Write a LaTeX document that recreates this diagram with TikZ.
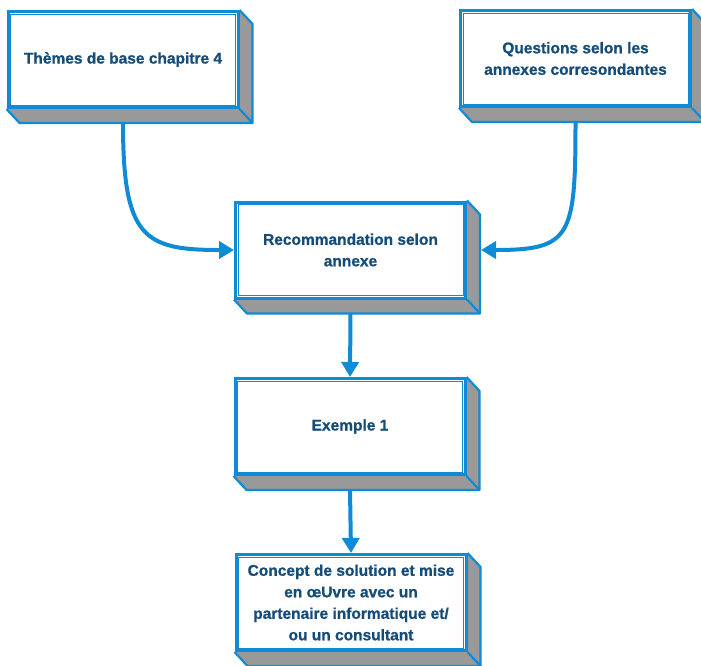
\documentclass[tikz,border=0pt]{standalone}
\usepackage{fontspec}
\setmainfont{Liberation Sans}[BoldFeatures={FakeBold=0.9}]
\usetikzlibrary{arrows.meta,backgrounds,calc}
\definecolor{lineblue}{RGB}{14,138,214}
\definecolor{textblue}{RGB}{22,76,120}
\definecolor{sidegray}{RGB}{153,153,153}
\tikzset{
  box/.style={rectangle, draw=lineblue, line width=3pt, fill=white,
    minimum width=230pt, minimum height=96pt, inner sep=0pt, align=center,
    text=textblue, font=\bfseries\fontsize{15.5}{21.5}\selectfont},
  innerline/.style={draw=lineblue, line width=1pt},
  sideline/.style={draw=lineblue, line width=2.2pt, line join=round},
  conn/.style={draw=lineblue, line width=4pt, -{Triangle[length=15pt,width=17pt]}},
}
\newcommand\cubenode[3]{%
  \node[box] (#1) at (#2) {#3};
  \draw[innerline] ($(#1.north west)+(4pt,-4pt)$) rectangle ($(#1.south east)+(-4pt,4pt)$);
  \begin{scope}[on background layer]
    \fill[sidegray] (#1.south west) -- ($(#1.south west)+(13pt,-14pt)$)
      -- ($(#1.south east)+(13pt,-14pt)$) -- ($(#1.north east)+(13pt,-14pt)$)
      -- (#1.north east) -- cycle;
    \draw[sideline] (#1.south west) -- ($(#1.south west)+(13pt,-14pt)$)
      -- ($(#1.south east)+(13pt,-14pt)$) -- ($(#1.north east)+(13pt,-14pt)$)
      -- (#1.north east);
    \draw[sideline] (#1.south east) -- ($(#1.south east)+(13pt,-14pt)$);
  \end{scope}}
\begin{document}
\begin{tikzpicture}[x=1pt,y=-1pt]
\useasboundingbox (0,0) rectangle (701,665);
\cubenode{b1}{123,59.5}{Thèmes de base chapitre 4}
\cubenode{b2}{575.5,58.5}{Questions selon les\\annexes corresondantes}
\cubenode{b3}{350.5,250}{Recommandation selon\\annexe}
\cubenode{b4}{350,426.5}{Exemple 1}
\cubenode{b5}{351,602.5}{Concept de solution et mise\\en œUvre avec un\\partenaire informatique et/\\ou un consultant}
\draw[conn] ($(b1.south)+(0pt,-14pt)$) .. controls +(0pt,-115pt) and +(-90pt,0pt) .. (b3.west);
\draw[conn] ($(b2.south)+(0pt,-14pt)$) .. controls +(0pt,-115pt) and +(90pt,0pt) .. ($(b3.east)+(14pt,0pt)$);
\draw[conn] ($(b3.south)+(0pt,-14pt)$) -- (b4.north);
\draw[conn] ($(b4.south)+(0pt,-14pt)$) -- (b5.north);
\end{tikzpicture}
\end{document}
